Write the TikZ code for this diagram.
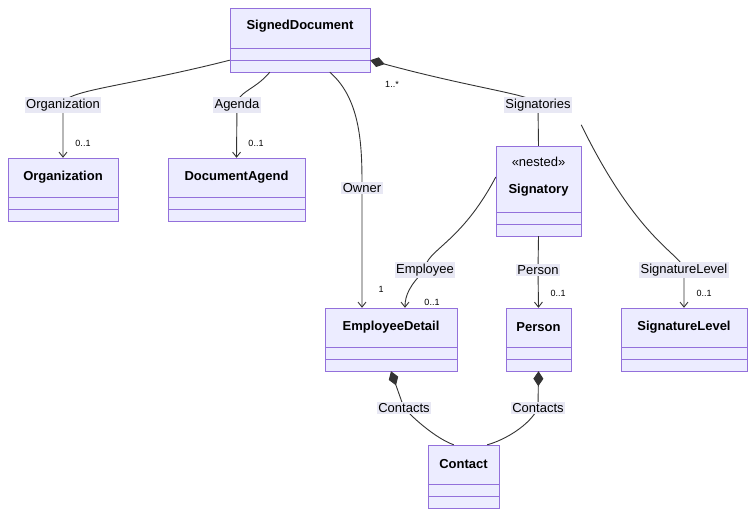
\documentclass[tikz,border=0pt]{standalone}
\usepackage{fontspec}
\setmainfont{Liberation Sans}
\usetikzlibrary{arrows.meta}
\definecolor{clsfill}{HTML}{ECECFF}
\definecolor{clsline}{HTML}{9370DB}
\definecolor{edge}{HTML}{333333}
\definecolor{lblfill}{HTML}{E8E8F4}
\tikzstyle{cls} = [rectangle, draw=clsline, fill=clsfill, inner sep=0pt]
\tikzstyle{clsname} = [font=\fontsize{13}{15}\selectfont\bfseries, inner sep=0pt]
\tikzstyle{lbl} = [fill=lblfill, font=\fontsize{13}{15}\selectfont, inner sep=1.5pt]
\tikzstyle{mult} = [font=\fontsize{9}{11}\selectfont, inner sep=0pt]
\tikzstyle{edge} = [draw=edge, line width=0.9pt]
\tikzstyle{arrow} = [edge, -{Straight Barb[length=5pt,width=8pt]}]
\tikzstyle{comp} = [edge, {Diamond[length=15pt,width=10pt,fill=edge]}-]
\newcommand{\compartments}[1]{%
  \draw[clsline] ([yshift=24]#1.south west) -- ([yshift=24]#1.south east);
  \draw[clsline] ([yshift=12]#1.south west) -- ([yshift=12]#1.south east);}

\begin{document}
\begin{tikzpicture}[x=1pt,y=-1pt]
    \useasboundingbox[fill=white] (0,0) rectangle (755,518);
    % label positions
    \coordinate (cOrg) at (63,105);
    \coordinate (cAgenda) at (237,105);
    \coordinate (cOwner) at (362,188);
    \coordinate (cSig) at (538,105);
    \coordinate (cEmp) at (425,270);
    \coordinate (cPer) at (538,270);
    \coordinate (cLvl) at (684,270);
    \coordinate (cCon1) at (404,408);
    \coordinate (cCon2) at (538,408);

    % classes
    \node (sd) [cls, minimum width=140, minimum height=64] at (300,40) {};
    \node (org) [cls, minimum width=110, minimum height=63] at (63,189.5) {};
    \node (agd) [cls, minimum width=137, minimum height=63] at (236.5,189.5) {};
    \node (sig) [cls, minimum width=85, minimum height=90] at (538.5,191) {};
    \node (emp) [cls, minimum width=132, minimum height=63] at (391,339.5) {};
    \node (per) [cls, minimum width=65, minimum height=63] at (538.5,339.5) {};
    \node (lvl) [cls, minimum width=126, minimum height=63] at (684,339.5) {};
    \node (con) [cls, minimum width=71, minimum height=63] at (463.5,476.5) {};
    \foreach \c in {sd,org,agd,sig,emp,per,lvl,con} {\compartments{\c}}
    \node [clsname] at ([yshift=-18]sd.north) {SignedDocument};
    \node [clsname] at ([yshift=-19]org.north) {Organization};
    \node [clsname] at ([yshift=-19]agd.north) {DocumentAgend};
    \node [font=\fontsize{13}{15}\selectfont, inner sep=0pt] at ([yshift=-16]sig.north) {«nested»};
    \node [clsname] at ([yshift=-44]sig.north) {Signatory};
    \node [clsname] at ([yshift=-19]emp.north) {EmployeeDetail};
    \node [clsname] at ([yshift=-19]per.north) {Person};
    \node [clsname] at ([yshift=-19]lvl.north) {SignatureLevel};
    \node [clsname] at ([yshift=-19]con.north) {Contact};

    % connectors
    \draw [arrow] ([yshift=12]sd.south west) .. controls (120,88) and (63,90) .. (cOrg) -- (org.north);
    \draw [arrow] ([xshift=40]sd.south west) .. controls (255,90) and (237,92) .. (cAgenda) -- (agd.north);
    \draw [arrow] ([xshift=100]sd.south west) .. controls (362,100) and (362,150) .. (cOwner) -- (emp.north -| cOwner);
    \draw [comp] ([yshift=12]sd.south east) .. controls (480,90) and (538,95) .. (cSig) -- (sig.north);
    \draw [arrow] ([yshift=14]sig.west) .. controls (460,245) and (425,250) .. (cEmp) .. controls (410,285) and (405,295) .. ([xshift=14]emp.north);
    \draw [arrow] (sig.south) -- (cPer) -- (per.north);
    \draw [arrow] ([yshift=21]sig.north east) .. controls (640,245) and (684,255) .. (cLvl) -- (lvl.north);
    \draw [comp] (emp.south) -- (cCon1) .. controls (420,425) and (440,440) .. ([xshift=26]con.north west);
    \draw [comp] (per.south) -- (cCon2) .. controls (530,425) and (505,440) .. ([xshift=-12]con.north east);

    % labels
    \node [lbl] at (cOrg) {Organization};
    \node [lbl] at (cAgenda) {Agenda};
    \node [lbl] at (cOwner) {Owner};
    \node [lbl] at (cSig) {Signatories};
    \node [lbl] at (cEmp) {Employee};
    \node [lbl] at (cPer) {Person};
    \node [lbl] at (cLvl) {SignatureLevel};
    \node [lbl] at (cCon1) {Contacts};
    \node [lbl] at (cCon2) {Contacts};
    \node [mult] at (83,143) {0..1};
    \node [mult] at (256,143) {0..1};
    \node [mult] at (381,289) {1};
    \node [mult] at (392,84) {1..*};
    \node [mult] at (432,302) {0..1};
    \node [mult] at (558,293) {0..1};
    \node [mult] at (704,293) {0..1};
\end{tikzpicture}
\end{document}
